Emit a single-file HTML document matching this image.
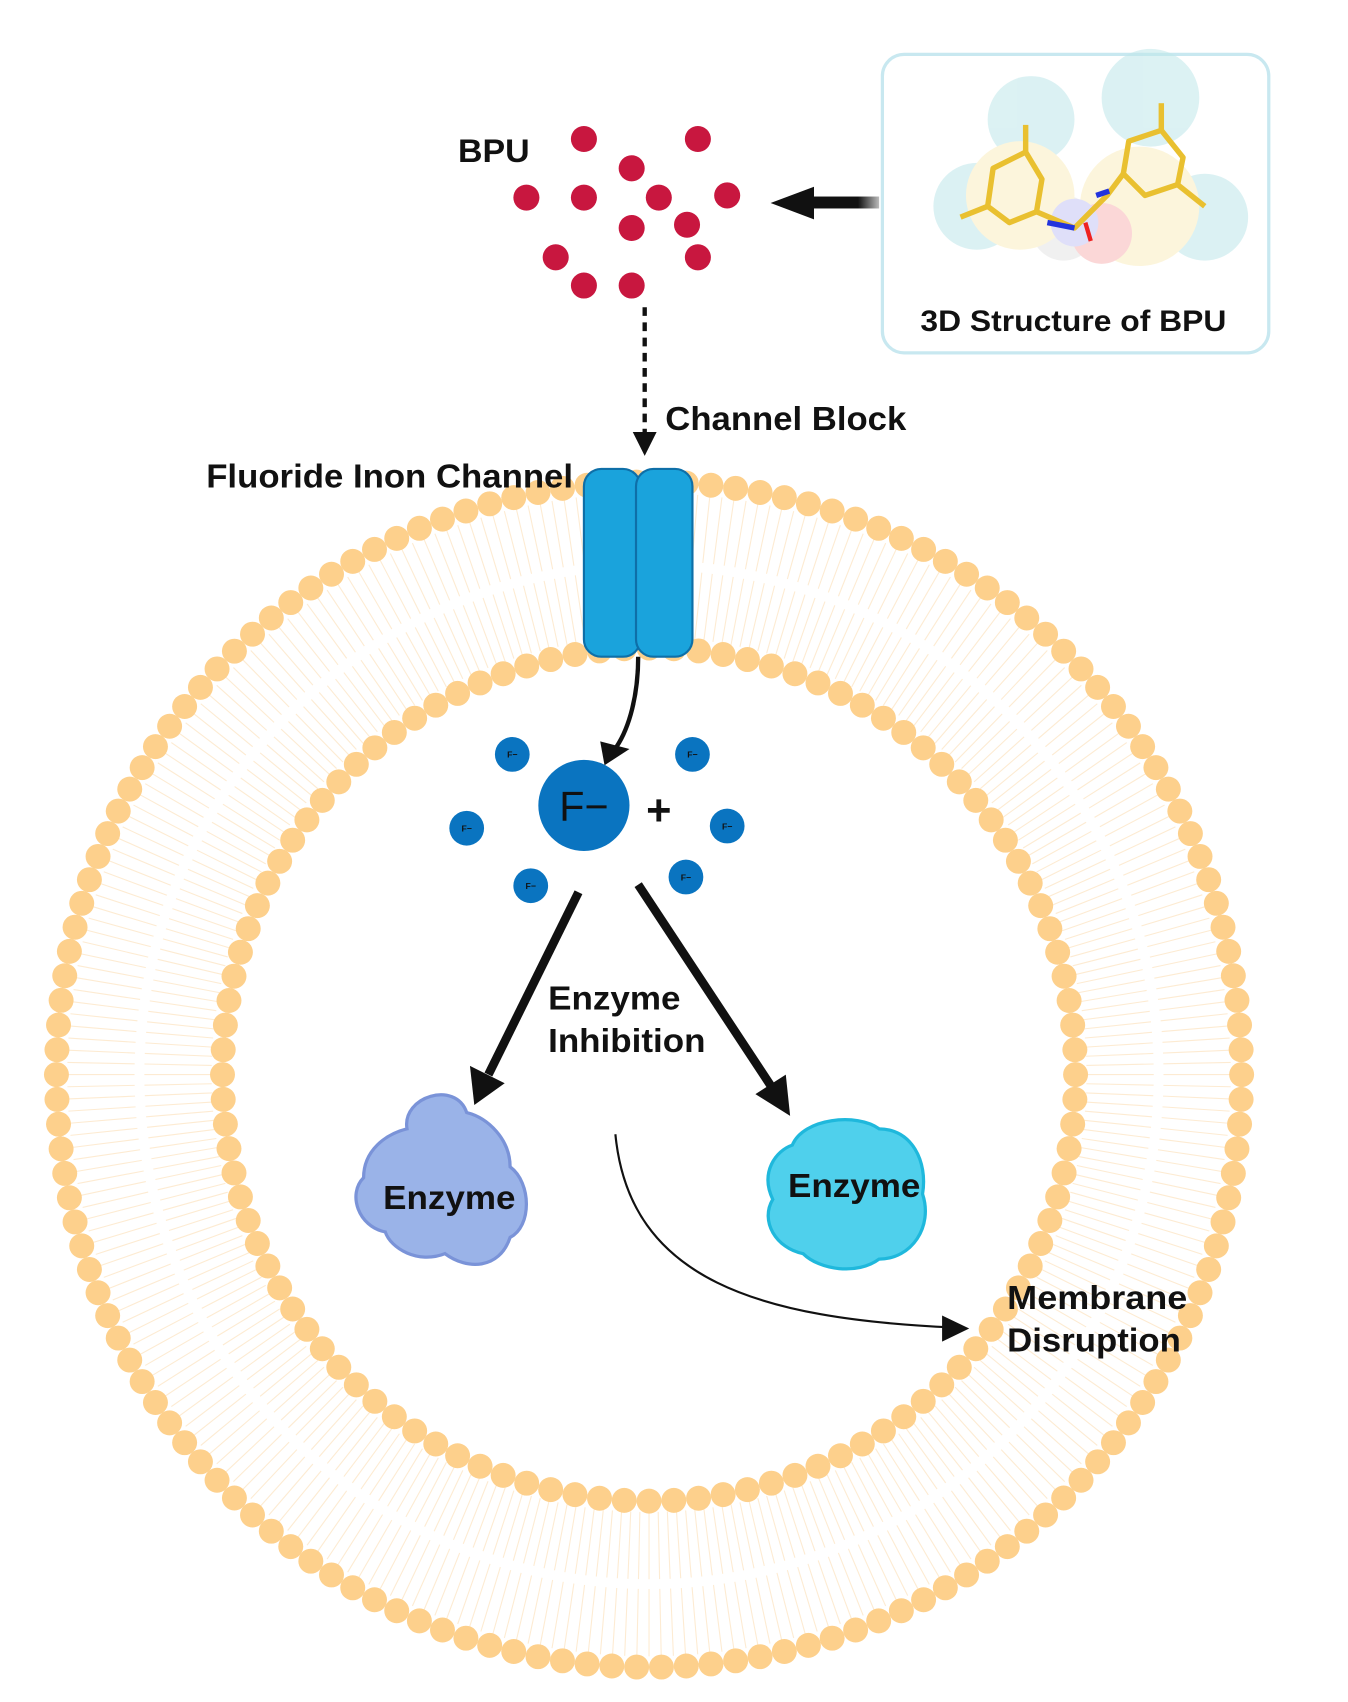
<!DOCTYPE html>
<html><head><meta charset="utf-8"><style>
html,body{margin:0;padding:0;background:#fff;}
svg{display:block}
text{font-family:"Liberation Sans",sans-serif;font-weight:bold;fill:#111}
</style></head><body>
<svg id="s" width="1348" height="1702" viewBox="0 0 1242 1568" xmlns="http://www.w3.org/2000/svg">
<defs>
<linearGradient id="gr" x1="0" x2="1"><stop offset="0" stop-color="#111"/><stop offset="0.7" stop-color="#111"/><stop offset="1" stop-color="#bbb"/></linearGradient>
</defs>
<g id="mem"></g>
<!-- channel -->
<rect x="538" y="432" width="52" height="173" rx="16" fill="#1aa3dc" stroke="#0e6fa8" stroke-width="2"/>
<rect x="586" y="432" width="52" height="173" rx="16" fill="#1aa3dc" stroke="#0e6fa8" stroke-width="2"/>
<text x="190" y="449" font-size="31" textLength="338" lengthAdjust="spacingAndGlyphs">Fluoride Inon Channel</text>
<text x="613" y="396" font-size="31" textLength="222" lengthAdjust="spacingAndGlyphs">Channel Block</text>
<text x="422" y="149" font-size="30" textLength="66" lengthAdjust="spacingAndGlyphs">BPU</text>
<!-- BPU dots -->
<g fill="#c8173f" id="dots"></g>
<!-- dashed arrow -->
<line x1="594" y1="283" x2="594" y2="400" stroke="#111" stroke-width="4" stroke-dasharray="8,6"/>
<path d="M583,398L605,398L594,420z" fill="#111"/>
<!-- arrow from box -->
<rect x="745" y="181" width="65" height="11" fill="url(#gr)"/>
<path d="M750,172L710,187L750,202z" fill="#111"/>
<!-- box -->
<rect x="813" y="50" width="356" height="275" rx="20" fill="#fff" stroke="#c8e8f0" stroke-width="3"/>
<g opacity="0.55">
<circle cx="900" cy="190" r="40" fill="#bfe7ea"/><circle cx="950" cy="110" r="40" fill="#bfe7ea"/><circle cx="1060" cy="90" r="45" fill="#bfe7ea"/>
<circle cx="1110" cy="200" r="40" fill="#bfe7ea"/><circle cx="980" cy="210" r="30" fill="#e5e5e5"/><circle cx="1050" cy="190" r="55" fill="#fbeec0"/>
<circle cx="940" cy="180" r="50" fill="#fbeec0"/><circle cx="1015" cy="215" r="28" fill="#f8b8b8"/><circle cx="990" cy="205" r="22" fill="#c6c6f5"/>
</g>
<g stroke="#e9c030" stroke-width="5" fill="none" stroke-linejoin="round">
<path d="M915,155L945,140L960,165L955,195L930,205L910,190z"/><path d="M945,140L945,115"/><path d="M910,190L885,200"/>
<path d="M1040,130L1070,120L1090,145L1085,170L1055,180L1035,160z"/><path d="M1070,120L1070,95"/><path d="M1085,170L1110,190"/>
<path d="M955,195L990,210L1005,195L1020,180L1035,160"/>
</g>
<path d="M965,205L990,210M1010,180L1022,176" stroke="#2233dd" stroke-width="5"/>
<path d="M1000,205L1005,222" stroke="#ee2222" stroke-width="4"/>
<text x="848" y="305" font-size="27" textLength="282" lengthAdjust="spacingAndGlyphs">3D Structure of BPU</text>
<!-- curved arrow from channel -->
<path d="M588,605 C588,640 580,670 568,688" stroke="#111" stroke-width="4" fill="none"/>
<path d="M553,683L580,690L557,705z" fill="#111"/>
<!-- F- -->
<circle cx="538" cy="742" r="42" fill="#0a74c0"/>
<text x="538" y="756" font-size="38" text-anchor="middle" style="font-weight:normal">F−</text>
<text x="607" y="760" font-size="40" text-anchor="middle">+</text>
<g fill="#0a74c0"><circle cx="472" cy="695" r="16"/><circle cx="638" cy="695" r="16"/><circle cx="430" cy="763" r="16"/><circle cx="670" cy="761" r="16"/><circle cx="489" cy="816" r="16"/><circle cx="632" cy="808" r="16"/></g>
<g font-size="8" text-anchor="middle"><text x="472" y="698">F−</text><text x="638" y="698">F−</text><text x="430" y="766">F−</text><text x="670" y="764">F−</text><text x="489" y="819">F−</text><text x="632" y="811">F−</text></g>
<!-- thick arrows -->
<line x1="533" y1="822" x2="450" y2="990" stroke="#111" stroke-width="8"/>
<path d="M433,982L465,998L437,1018z" fill="#111"/>
<line x1="588" y1="815" x2="710" y2="1000" stroke="#111" stroke-width="8"/>
<path d="M696,1008L724,990L728,1028z" fill="#111"/>
<text x="505" y="930" font-size="31" textLength="122" lengthAdjust="spacingAndGlyphs">Enzyme</text>
<text x="505" y="969" font-size="31" textLength="145" lengthAdjust="spacingAndGlyphs">Inhibition</text>
<!-- enzymes -->
<path d="M375,1040 C370,1010 420,995 430,1025 C450,1030 470,1050 470,1075 C490,1090 490,1130 470,1140 C460,1170 430,1170 410,1155 C385,1165 360,1150 355,1135 C330,1130 320,1100 335,1085 C335,1060 355,1045 375,1040z" fill="#9ab3e8" stroke="#7a93d8" stroke-width="3"/>
<path d="M730,1055 C740,1030 790,1025 810,1040 C840,1040 855,1070 850,1100 C860,1130 840,1160 810,1160 C790,1175 755,1170 740,1155 C715,1150 700,1125 712,1105 C700,1080 715,1060 730,1055z" fill="#4fd0ec" stroke="#1fb8dc" stroke-width="3"/>
<text x="353" y="1114" font-size="31" textLength="122" lengthAdjust="spacingAndGlyphs">Enzyme</text>
<text x="726" y="1103" font-size="31" textLength="122" lengthAdjust="spacingAndGlyphs">Enzyme</text>
<!-- thin curve -->
<path d="M567,1045 C580,1180 700,1215 878,1223" stroke="#111" stroke-width="2" fill="none"/>
<path d="M868,1212L893,1224L868,1236z" fill="#111"/>
<text x="928" y="1206" font-size="31" textLength="166" lengthAdjust="spacingAndGlyphs">Membrane</text>
<text x="928" y="1245" font-size="31" textLength="160" lengthAdjust="spacingAndGlyphs">Disruption</text>
</svg>
<script>
var ns="http://www.w3.org/2000/svg",m=document.getElementById('mem');
var cx=598,cy=990,ro=546,ri=393;
function el(t,a,p){var e=document.createElementNS(ns,t);for(var k in a)e.setAttribute(k,a[k]);p.appendChild(e);return e;}
var g=el('g',{stroke:'#fdebd2','stroke-width':'1'},m);
var n=300;
for(var i=0;i<n;i++){var a=2*Math.PI*i/n,c=Math.cos(a),s=Math.sin(a);
el('line',{x1:cx+(ro-10)*c,y1:cy+(ro-10)*s,x2:cx+(ro-72)*c,y2:cy+(ro-72)*s},g);
el('line',{x1:cx+(ri+10)*c,y1:cy+(ri+10)*s,x2:cx+(ri+72)*c,y2:cy+(ri+72)*s},g);}
var h=el('g',{fill:'#fdd08c'},m);
for(var i=0;i<150;i++){var a=2*Math.PI*i/150;el('circle',{cx:cx+ro*Math.cos(a),cy:cy+ro*Math.sin(a),r:11.5},h);}
for(var i=0;i<108;i++){var a=2*Math.PI*i/108;el('circle',{cx:cx+ri*Math.cos(a),cy:cy+ri*Math.sin(a),r:11.5},h);}
var d=document.getElementById('dots');
[[538,128],[643,128],[582,155],[485,182],[538,182],[607,182],[670,180],[582,210],[633,207],[512,237],[643,237],[538,263],[582,263]].forEach(function(p){el('circle',{cx:p[0],cy:p[1],r:12},d);});
</script>
</body></html>
